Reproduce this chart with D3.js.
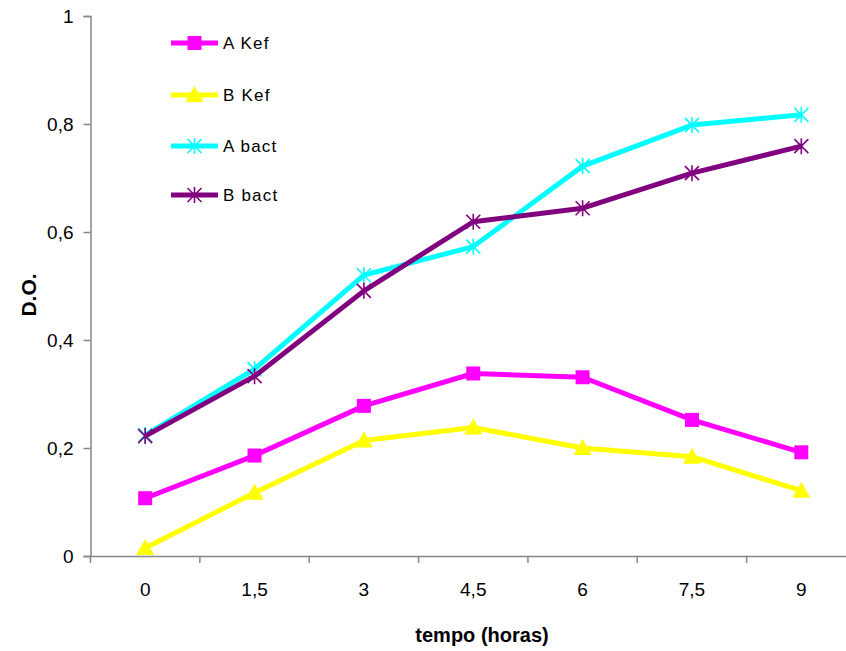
<!DOCTYPE html>
<html>
<head>
<meta charset="utf-8">
<script src="https://cdn.jsdelivr.net/npm/d3@7"></script>
<style>
  body { margin: 0; background: #fff; }
  svg { display: block; font-family: "Liberation Sans", Arial, sans-serif; }
</style>
</head>
<body>
<svg id="chart" width="846" height="651"></svg>
<script>
// categories (tempo, horas)
const categories = ["0", "1,5", "3", "4,5", "6", "7,5", "9"];

// D.O. per series
const aKef  = [0.107, 0.186, 0.278, 0.338, 0.331, 0.252, 0.192];
const bKef  = [0.015, 0.117, 0.214, 0.238, 0.200, 0.184, 0.121];
const aBact = [0.224, 0.346, 0.520, 0.573, 0.722, 0.798, 0.817];
const bBact = [0.222, 0.333, 0.491, 0.619, 0.644, 0.709, 0.759];

const yTicks = [0, 0.2, 0.4, 0.6, 0.8, 1];

const series = [
  { name: "A Kef",  values: aKef,  color: "#ff00ff", marker: "square" },
  { name: "B Kef",  values: bKef,  color: "#ffff00", marker: "triangle" },
  { name: "A bact", values: aBact, color: "#00ffff", marker: "star" },
  { name: "B bact", values: bBact, color: "#800080", marker: "star" }
];

const svg = d3.select("#chart");
const plotLeft = 90.5, plotRight = 856, plotTop = 16, plotBottom = 556;

const x = d3.scaleBand().domain(categories).range([plotLeft, plotRight]);
const y = d3.scaleLinear().domain([0, 1]).range([plotBottom, plotTop]);
const cx = c => x(c) + x.bandwidth() / 2;

const axisColor = "#868686";

// y axis
const yAxis = svg.append("g")
  .attr("transform", `translate(${plotLeft},0)`)
  .call(d3.axisLeft(y).tickValues(yTicks).tickSize(7).tickPadding(10)
    .tickFormat(d => d3.format("")(d).replace(".", ",")));
yAxis.select(".domain").attr("stroke", axisColor).attr("stroke-width", 1.5);
yAxis.selectAll(".tick line").attr("stroke", axisColor).attr("stroke-width", 1.5);
yAxis.selectAll(".tick text").attr("font-size", 19).attr("fill", "#000");

// x axis (ticks between categories)
const xAxis = svg.append("g")
  .attr("transform", `translate(0,${plotBottom})`)
  .call(d3.axisBottom(x).tickSize(0).tickPadding(27));
xAxis.select(".domain").attr("stroke", axisColor).attr("stroke-width", 1.5);
xAxis.selectAll(".tick text").attr("font-size", 19).attr("fill", "#000");
xAxis.selectAll(".sep")
  .data(categories)
  .join("line")
  .attr("class", "sep")
  .attr("x1", d => x(d)).attr("x2", d => x(d))
  .attr("y1", 0).attr("y2", 7)
  .attr("stroke", axisColor).attr("stroke-width", 1.5);

// axis titles
svg.append("text")
  .attr("transform", `translate(36,295) rotate(-90)`)
  .attr("text-anchor", "middle")
  .attr("font-size", 21).attr("font-weight", "bold")
  .text("D.O.");

svg.append("text")
  .attr("x", 482).attr("y", 642)
  .attr("text-anchor", "middle")
  .attr("font-size", 20).attr("font-weight", "bold")
  .text("tempo (horas)");

function drawMarker(g, type, color) {
  if (type === "square") {
    g.append("rect").attr("x", -7).attr("y", -7).attr("width", 14).attr("height", 14)
      .attr("fill", color);
  } else if (type === "triangle") {
    g.append("path").attr("d", "M0,-9L9,7L-9,7Z").attr("fill", color);
  } else {
    const r = 7;
    g.append("path")
      .attr("d", `M${-r},${-r}L${r},${r}M${-r},${r}L${r},${-r}M0,${-r - 1}L0,${r + 1}`)
      .attr("stroke", color).attr("stroke-width", 1.6).attr("fill", "none");
  }
}

const line = d3.line().x((d, i) => cx(categories[i])).y(d => y(d));

series.forEach(s => {
  const g = svg.append("g");
  g.append("path")
    .attr("d", line(s.values))
    .attr("fill", "none")
    .attr("stroke", s.color)
    .attr("stroke-width", 5)
    .attr("stroke-linejoin", "round");
  s.values.forEach((v, i) => {
    const m = g.append("g").attr("transform", `translate(${cx(categories[i])},${y(v)})`);
    drawMarker(m, s.marker, s.color);
  });
});

// legend
const legendY = [43, 95, 146, 195];
series.forEach((s, i) => {
  const g = svg.append("g").attr("transform", `translate(171,${legendY[i]})`);
  g.append("line").attr("x1", 0).attr("x2", 47).attr("y1", 0).attr("y2", 0)
    .attr("stroke", s.color).attr("stroke-width", 5);
  const m = g.append("g").attr("transform", "translate(23.5,0)");
  drawMarker(m, s.marker, s.color);
  g.append("text").attr("x", 52).attr("y", 6)
    .attr("font-size", 17).attr("letter-spacing", 1.2)
    .text(s.name);
});
</script>
</body>
</html>
